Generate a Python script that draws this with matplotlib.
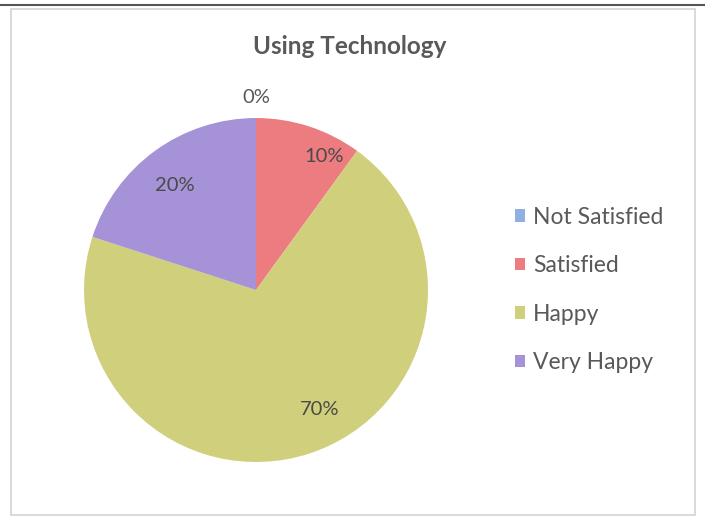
import numpy as np
import matplotlib.pyplot as plt
from matplotlib.patches import Rectangle

# Data
categories = ['Not Satisfied', 'Satisfied', 'Happy', 'Very Happy']
values = [0, 10, 70, 20]
colors = ['#8fb0e0', '#ec7c80', '#cfcf7c', '#a692d6']
title = 'Using Technology'

plt.rcParams['font.family'] = ['Lato', 'DejaVu Sans']

fig = plt.figure(figsize=(7.05, 5.19), dpi=100)

# page line at the top and the chart frame
fig.add_artist(plt.Line2D([0, 1], [1 - 5 / 519, 1 - 5 / 519], color='#555555', lw=1.5))
fig.add_artist(Rectangle((11 / 705, 4 / 519), 684 / 705, 506 / 519, fill=False,
                         edgecolor='#d8d0d4', lw=1.2))

fig.text(350 / 705, 1 - 46 / 519, title, ha='center', va='center',
         fontsize=17.5, fontweight='bold', color='#595959')

# pie axes
ax = fig.add_axes([0.0704, 0.0435, 0.5855, 0.7954])
wedges, _ = ax.pie(values, colors=colors, startangle=90, counterclock=False,
                   radius=1.0, wedgeprops=dict(linewidth=0))
ax.set_xlim(-1.2, 1.2)
ax.set_ylim(-1.2, 1.2)
ax.set_aspect('equal')
ax.axis('off')

# data labels (Excel "best fit" style placement)
label_r = [1.12, 0.87, 0.79, 0.77]
label_shift = [0, -9, 10, 2]
for w, v, r, s in zip(wedges, values, label_r, label_shift):
    mid = np.deg2rad((w.theta1 + w.theta2) / 2 + s)
    ax.text(r * np.cos(mid), r * np.sin(mid), f'{v}%', ha='center', va='center',
            fontsize=14.5, color='#595959' if v == 0 else '#4a4a4a')

# legend
fig.legend(wedges, categories, loc='center left', bbox_to_anchor=(494 / 705, 1 - 290 / 519),
           frameon=False, fontsize=16.5, handlelength=0.45, handleheight=0.45,
           handletextpad=0.35, labelspacing=1.2, labelcolor='#595959')

fig.savefig('out.png', dpi=100)
